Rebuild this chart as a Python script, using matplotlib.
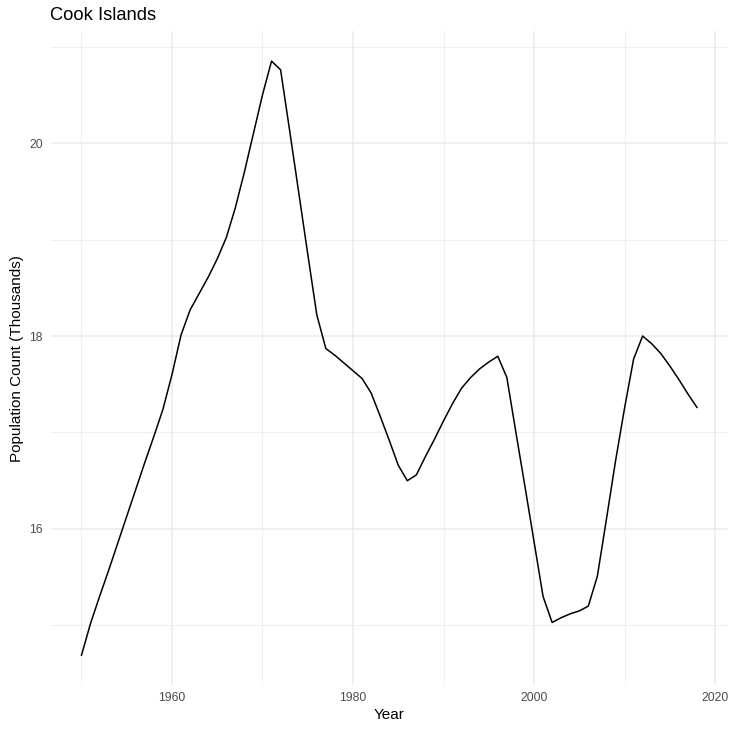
import matplotlib.pyplot as plt
import numpy as np

plt.rcParams['font.family'] = ['Liberation Sans', 'DejaVu Sans']

anos = list(range(1950, 2019))
populacao = [
    14.69, 15.02, 15.30, 15.57, 15.85, 16.13, 16.41, 16.69, 16.96, 17.24,
    17.60, 18.01, 18.27, 18.44, 18.61, 18.80, 19.02, 19.33, 19.70, 20.10,
    20.50, 20.85, 20.76, 20.13, 19.49, 18.85, 18.22, 17.87, 17.80, 17.72,
    17.64, 17.56, 17.41, 17.17, 16.92, 16.66, 16.50, 16.56, 16.75, 16.93,
    17.12, 17.30, 17.46, 17.57, 17.66, 17.73, 17.79, 17.57, 17.00, 16.44,
    15.87, 15.30, 15.03, 15.08, 15.12, 15.15, 15.20, 15.51, 16.10, 16.70,
    17.25, 17.76, 18.00, 17.92, 17.82, 17.69, 17.55, 17.40, 17.26,
]

titulo = "Cook Islands"
rotulo_x = "Year"
rotulo_y = "Population Count (Thousands)"

fig = plt.figure(figsize=(7.34, 7.30), dpi=100)
ax = fig.add_axes([50.7 / 734, 45 / 730, 677 / 734, 653.6 / 730])

ax.plot(anos, populacao, color='black', lw=1.1, zorder=3)

# limites com expansao de 5% como no ggplot
xr = max(anos) - min(anos)
yr = max(populacao) - min(populacao)
ax.set_xlim(min(anos) - 0.05 * xr, max(anos) + 0.05 * xr)
ax.set_ylim(min(populacao) - 0.05 * yr, max(populacao) + 0.05 * yr)

ax.set_xticks([1960, 1980, 2000, 2020])
ax.set_xticks([1950, 1970, 1990, 2010], minor=True)
ax.set_yticks([16, 18, 20])
ax.set_yticks([15, 17, 19, 21], minor=True)

ax.grid(which='major', color='#EBEBEB', lw=1.1)
ax.grid(which='minor', color='#EBEBEB', lw=0.55)
ax.set_axisbelow(True)
for s in ax.spines.values():
    s.set_visible(False)
ax.tick_params(which='both', length=0, labelsize=8.8, labelcolor='#4D4D4D')
ax.tick_params(axis='y', pad=5.5)
ax.tick_params(axis='x', pad=5)

ax.set_xlabel(rotulo_x, fontsize=11, labelpad=3)
ax.set_ylabel(rotulo_y, fontsize=11, labelpad=4)
fig.text(50 / 734, 1 - 20 / 730, titulo, fontsize=13.2, va='baseline', ha='left')

fig.savefig('out.png', dpi=100)
